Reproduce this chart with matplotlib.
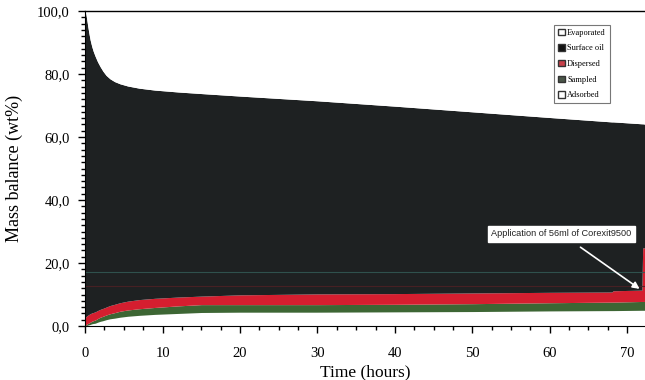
import numpy as np
import matplotlib.pyplot as plt
from matplotlib.patches import Patch
from matplotlib.ticker import MultipleLocator, FuncFormatter

# Time points (hours)
time_h = [0, 0.1, 0.2, 0.35, 0.5, 0.65, 0.85, 1.05, 1.3, 1.6,
          1.95, 2.3, 2.7, 3.2, 3.8, 4.5, 5.5, 7, 9, 12,
          15, 20, 30, 40, 50, 60, 68, 68.2, 71.9, 72.0, 72.3]

# Component thicknesses stacked from bottom (wt%)
adsorbed = [0.0, 0.1, 0.2, 0.3, 0.4, 0.5, 0.7, 0.8, 0.9, 1.2,
            1.5, 1.7, 2.0, 2.3, 2.5, 2.8, 3.1, 3.4, 3.7, 4.0,
            4.3, 4.4, 4.4, 4.5, 4.6, 4.8, 4.9, 4.9, 5.0, 5.0, 5.0]
sampled = [0.2, 0.3, 0.4, 0.5, 0.6, 0.7, 0.8, 0.9, 1.0, 1.15,
           1.3, 1.4, 1.5, 1.6, 1.75, 1.9, 2.0, 2.1, 2.2, 2.4,
           2.5, 2.4, 2.4, 2.4, 2.5, 2.6, 2.7, 2.7, 2.8, 2.8, 2.8]
dispersed = [2.5, 2.55, 2.6, 2.65, 2.7, 2.7, 2.65, 2.6, 2.6, 2.55,
             2.5, 2.5, 2.5, 2.6, 2.65, 2.7, 2.8, 2.9, 2.9, 2.8,
             2.7, 3.1, 3.4, 3.4, 3.4, 3.3, 3.2, 3.6, 3.6, 17.0, 17.0]
# Upper edge of the surface-oil band (100 minus evaporated)
surface_top = [100.0, 99.0, 97.5, 95.0, 92.8, 90.8, 88.8, 87.2, 85.6, 83.9,
               82.3, 80.9, 79.6, 78.5, 77.6, 76.9, 76.2, 75.5, 74.9, 74.3,
               73.8, 73.0, 71.5, 69.8, 68.0, 66.2, 64.8, 64.8, 64.2, 64.2, 64.1]

t = np.array(time_h)
a = np.array(adsorbed)
s = a + np.array(sampled)
d = s + np.array(dispersed)
top = np.array(surface_top)

plt.rcParams['font.family'] = ['Liberation Serif', 'DejaVu Serif']

fig = plt.figure(figsize=(6.45, 3.8), dpi=100)
ax = fig.add_axes([0.132, 0.142, 0.868, 0.829])

dark = '#1e2122'
red = '#d51e2f'
green = '#3d6634'

ax.fill_between(t, 0, a, color='white', lw=0)
ax.fill_between(t, a, s, color=green, lw=0)
ax.fill_between(t, s, d, color=red, lw=0)
ax.fill_between(t, d, top, color=dark, lw=0)
ax.fill_between(t, top, 100, color='white', lw=0)

# faint traces inside the surface-oil band
ax.plot([0, 72.3], [17.2, 17.2], color='#335a55', lw=0.8, alpha=0.85)
ax.plot([0, 72.3], [12.8, 12.8], color='#4e2024', lw=0.8, alpha=0.85)

ax.set_xlim(0, 72.3)
ax.set_ylim(0, 100)

ax.spines['right'].set_visible(False)
ax.spines['top'].set_linewidth(1.0)

ax.xaxis.set_major_locator(MultipleLocator(10))
ax.xaxis.set_minor_locator(MultipleLocator(2.5))
ax.yaxis.set_major_locator(MultipleLocator(20))
ax.yaxis.set_minor_locator(MultipleLocator(2))
ax.yaxis.set_major_formatter(FuncFormatter(lambda v, p: f'{v:.1f}'.replace('.', ',')))
ax.tick_params(axis='both', which='major', direction='out', length=5, width=1, labelsize=10.5, pad=6)
ax.tick_params(axis='both', which='minor', direction='out', length=3, width=1)
ax.tick_params(axis='x', which='major', pad=10)

ax.set_xlabel('Time (hours)', fontsize=12.5, labelpad=3)
ax.set_ylabel('Mass balance (wt%)', fontsize=13, labelpad=10)

handles = [
    Patch(facecolor='white', edgecolor='#333333', label='Evaporated'),
    Patch(facecolor='#111111', edgecolor='#333333', label='Surface oil'),
    Patch(facecolor='#c8404a', edgecolor='#333333', label='Dispersed'),
    Patch(facecolor='#4a5548', edgecolor='#333333', label='Sampled'),
    Patch(facecolor='white', edgecolor='#333333', label='Adsorbed'),
]
leg = ax.legend(handles=handles, loc='upper right', bbox_to_anchor=(0.945, 0.97),
                fontsize=6, frameon=True, fancybox=False, edgecolor='#555555',
                handlelength=0.8, handleheight=0.8, handletextpad=0.3,
                labelspacing=0.9, borderpad=0.5)
leg.get_frame().set_linewidth(0.8)

ax.annotate('Application of 56ml of Corexit9500', xy=(71.6, 11.8), xytext=(61.5, 29.3),
            fontsize=6.6, family=['Liberation Sans', 'DejaVu Sans'], color='#222222',
            ha='center', va='center',
            bbox=dict(boxstyle='square,pad=0.4', facecolor='white', edgecolor='white'),
            arrowprops=dict(arrowstyle='-|>', color='white', lw=1.2, mutation_scale=10,
                            shrinkA=6, shrinkB=0))

fig.savefig('out.png', dpi=100)
